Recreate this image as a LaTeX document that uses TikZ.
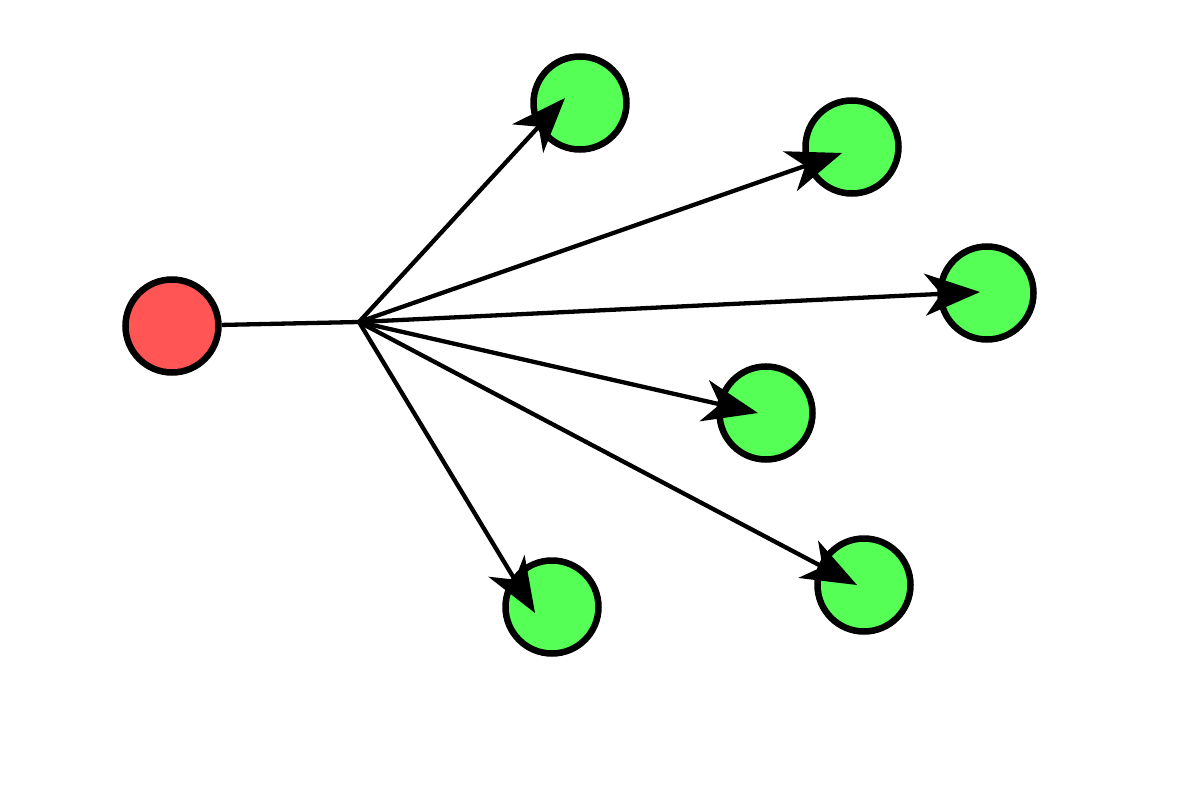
\documentclass[tikz,border=0pt]{standalone}
\usetikzlibrary{arrows.meta}
\definecolor{redfill}{HTML}{FF5555}
\definecolor{greenfill}{HTML}{55FF55}
\begin{document}
\begin{tikzpicture}[x=1pt,y=-1pt,
  dot/.style={circle,draw=black,line width=6.5pt,minimum size=93pt,inner sep=0pt},
  src/.style={dot,fill=redfill},
  dst/.style={dot,fill=greenfill},
  conn/.style={line width=4.3pt,-{Stealth[length=55pt,width=42pt,inset=16pt]}}]
\useasboundingbox (0,0) rectangle (1200,800);
\node[src] (r) at (172,326) {};
\node[dst] (g1) at (580,103) {};
\node[dst] (g2) at (852,147) {};
\node[dst] (g3) at (987,293) {};
\node[dst] (g4) at (766,413) {};
\node[dst] (g5) at (552,607) {};
\node[dst] (g6) at (864,585) {};
\coordinate (b) at (359,322);
\coordinate (t1) at (565,98);
\coordinate (t2) at (842,153);
\coordinate (t3) at (980,292);
\coordinate (t4) at (758,413);
\coordinate (t5) at (535,613);
\coordinate (t6) at (857,585);
\draw[line width=4.3pt] (r) -- (b);
\foreach \t in {t1,t2,t3,t4,t5,t6} \draw[conn] (b) -- (\t);
\end{tikzpicture}
\end{document}
